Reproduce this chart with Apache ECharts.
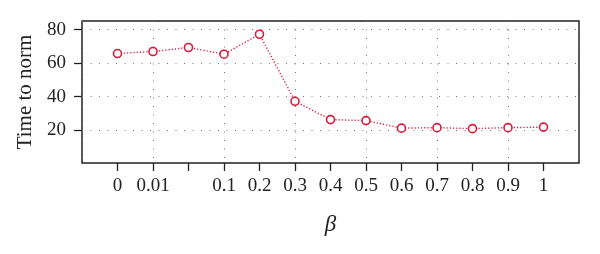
<!DOCTYPE html>
<html>
<head>
<meta charset="utf-8">
<script src="https://cdn.jsdelivr.net/npm/echarts@6/dist/echarts.min.js"></script>
<style>html,body{margin:0;padding:0;background:#fff;}#c{width:600px;height:254px;}</style>
</head>
<body>
<div id="c"></div>
<script>
var categories = ['0', '0.01', '', '0.1', '0.2', '0.3', '0.4', '0.5', '0.6', '0.7', '0.8', '0.9', '1'];
var timeToNorm = [65.7, 66.9, 69.3, 65.3, 77.2, 37.2, 26.3, 25.7, 21.2, 21.5, 20.9, 21.5, 21.8];
var yTicks = [20, 40, 60, 80];

var positions = categories.map(function (c, i) { return i + 1; });
var seriesData = timeToNorm.map(function (v, i) { return [positions[i], v]; });

var chart = echarts.init(document.getElementById('c'), null, {renderer: 'canvas'});
var font = '"Liberation Serif", "Times New Roman", serif';
chart.setOption({
  animation: false,
  grid: {left: 82, right: 21, top: 21, bottom: 91, show: true, borderColor: '#222', borderWidth: 1.5, backgroundColor: 'transparent'},
  xAxis: [{
    type: 'value', min: 0, max: 14,
    name: 'β', nameLocation: 'middle', nameGap: 50,
    nameTextStyle: {fontFamily: font, fontSize: 23, fontStyle: 'italic', color: '#222'},
    axisLine: {show: false},
    axisTick: {show: true, length: 8, customValues: positions, lineStyle: {color: '#222', width: 1.3}},
    axisLabel: {customValues: positions, margin: 14, fontFamily: font, fontSize: 19, color: '#222',
      formatter: function (v) { return categories[Math.round(v) - 1] || ''; }},
    splitLine: {show: false}
  }, {
    type: 'value', min: 0, max: 14, interval: 2, position: 'bottom',
    axisLine: {show: false}, axisTick: {show: false}, axisLabel: {show: false},
    splitLine: {show: true, lineStyle: {color: '#777', width: 1, type: [1, 7.5]}}
  }],
  yAxis: {
    type: 'value', min: 0.4, max: 85.1,
    name: 'Time to norm', nameLocation: 'middle', nameGap: 38,
    nameTextStyle: {fontFamily: font, fontSize: 21, color: '#222'},
    axisLine: {show: false},
    axisTick: {show: true, length: 8, customValues: yTicks, lineStyle: {color: '#222', width: 1.3}},
    axisLabel: {customValues: yTicks, margin: 16, fontFamily: font, fontSize: 19, color: '#222'},
    splitLine: {show: true, lineStyle: {color: '#777', width: 1, type: [1, 7.5]}}
  },
  series: [{
    type: 'line', xAxisIndex: 0, data: seriesData,
    symbol: 'circle', symbolSize: 8,
    itemStyle: {color: '#fff', borderColor: '#d8193a', borderWidth: 1.6},
    lineStyle: {color: '#d8193a', width: 1.4, type: [1.2, 2]},
    z: 5
  }]
});
</script>
</body>
</html>
